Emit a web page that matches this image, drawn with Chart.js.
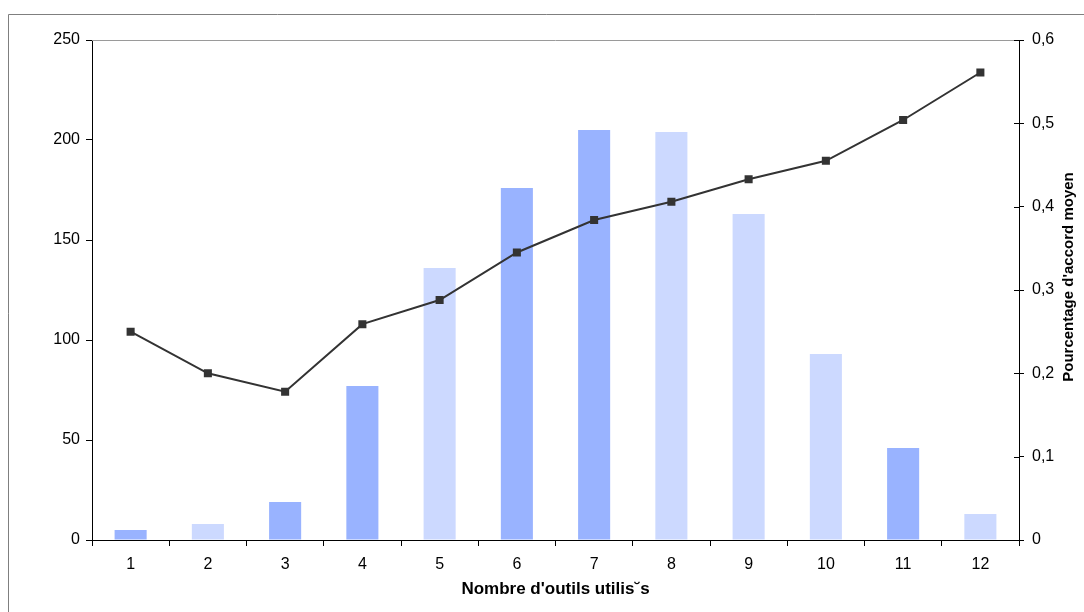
<!DOCTYPE html>
<html>
<head>
<meta charset="utf-8">
<script src="https://cdn.jsdelivr.net/npm/chart.js@4/dist/chart.umd.min.js"></script>
<style>
  html, body { margin: 0; padding: 0; background: #ffffff; }
  canvas { display: block; }
</style>
</head>
<body>
<canvas id="chart" width="1084" height="612"></canvas>
<script>
// Number of tools used (categories)
const toolCounts = ['1', '2', '3', '4', '5', '6', '7', '8', '9', '10', '11', '12'];
// Number of respondents for each tool count (left axis)
const respondents = [5, 8, 19, 77, 136, 176, 205, 204, 163, 93, 46, 13];
// Mean agreement percentage (right axis)
const meanAgreement = [0.250, 0.200, 0.178, 0.259, 0.288, 0.345, 0.384, 0.406, 0.433, 0.455, 0.504, 0.561];
// Axis ranges
const leftTicks = { min: 0, max: 250, step: 50 };
const rightTicks = { min: 0, max: 0.6, step: 0.1 };
// Axis titles
const xTitle = "Nombre d'outils utilis˘s";
const y1Title = "Pourcentage d'accord moyen";

// Bar shading: two tones of blue
const DARK = '#99b3ff';
const LIGHT = '#ccd9ff';
const barShades = [DARK, LIGHT, DARK, DARK, LIGHT, DARK, DARK, LIGHT, LIGHT, LIGHT, DARK, LIGHT];

const FONT = '"Liberation Sans", Arial, sans-serif';

// Frame, top border of plot, inward ticks of the right axis and axis titles
const decorations = {
  id: 'decorations',
  beforeDraw(chart) {
    const ctx = chart.ctx;
    ctx.save();
    ctx.fillStyle = '#ffffff';
    ctx.fillRect(0, 0, chart.width, chart.height);
    ctx.strokeStyle = '#7f7f7f';
    ctx.lineWidth = 1;
    ctx.beginPath();
    ctx.moveTo(8.5, chart.height + 2);
    ctx.lineTo(8.5, 14.5);
    ctx.lineTo(chart.width + 2, 14.5);
    ctx.stroke();
    ctx.restore();
  },
  afterDraw(chart) {
    const ctx = chart.ctx;
    const area = chart.chartArea;
    ctx.save();
    // top edge of the plot area
    ctx.strokeStyle = '#9a9a9a';
    ctx.lineWidth = 1;
    ctx.beginPath();
    ctx.moveTo(area.left, area.top + 0.5);
    ctx.lineTo(area.right, area.top + 0.5);
    ctx.stroke();
    // right axis ticks cross the axis line
    const y1 = chart.scales.y1;
    ctx.strokeStyle = '#000000';
    ctx.beginPath();
    y1.ticks.forEach((t) => {
      const py = Math.round(y1.getPixelForValue(t.value)) + 0.5;
      ctx.moveTo(area.right - 5, py);
      ctx.lineTo(area.right, py);
    });
    ctx.stroke();
    // axis titles
    ctx.fillStyle = '#000000';
    ctx.textAlign = 'center';
    ctx.textBaseline = 'middle';
    ctx.font = 'bold 17px ' + FONT;
    ctx.fillText(xTitle, (area.left + area.right) / 2, 589);
    ctx.font = 'bold 15px ' + FONT;
    ctx.translate(1069, 277);
    ctx.rotate(-Math.PI / 2);
    ctx.fillText(y1Title, 0, 0);
    ctx.restore();
  }
};

const fmtComma = (v) => (v === 0 ? '0' : Number(v).toFixed(1).replace('.', ','));

new Chart(document.getElementById('chart'), {
  data: {
    labels: toolCounts,
    datasets: [
      {
        type: 'line',
        label: y1Title,
        data: meanAgreement,
        yAxisID: 'y1',
        borderColor: '#333333',
        borderWidth: 2,
        tension: 0,
        pointStyle: 'rect',
        pointRadius: 5.7,
        pointBorderWidth: 0,
        pointBackgroundColor: '#333333',
        pointBorderColor: '#333333'
      },
      {
        type: 'bar',
        label: xTitle,
        data: respondents,
        yAxisID: 'y',
        backgroundColor: barShades,
        borderWidth: 0,
        barPercentage: 0.415,
        categoryPercentage: 1
      }
    ]
  },
  options: {
    responsive: false,
    devicePixelRatio: 1,
    animation: false,
    layout: { padding: { top: 40, left: 0, right: 0, bottom: 0 } },
    plugins: {
      legend: { display: false },
      tooltip: { enabled: false }
    },
    scales: {
      x: {
        type: 'category',
        offset: true,
        grid: { display: true, drawOnChartArea: false, offset: true, tickLength: 6, color: '#000000' },
        border: { display: true, color: '#000000', width: 1 },
        ticks: { color: '#000000', font: { family: FONT, size: 16 }, padding: 9, maxRotation: 0 },
        afterFit: (s) => { s.height = 72; }
      },
      y: {
        position: 'left',
        min: leftTicks.min,
        max: leftTicks.max,
        grid: { display: true, drawOnChartArea: false, tickLength: 6, color: '#000000' },
        border: { display: true, color: '#000000', width: 1 },
        ticks: { stepSize: leftTicks.step, color: '#000000', font: { family: FONT, size: 16 }, padding: 6 },
        afterFit: (s) => { s.width = 92; }
      },
      y1: {
        position: 'right',
        min: rightTicks.min,
        max: rightTicks.max,
        grid: { display: true, drawOnChartArea: false, tickLength: 5, color: '#000000' },
        border: { display: true, color: '#000000', width: 1 },
        ticks: { stepSize: rightTicks.step, color: '#000000', font: { family: FONT, size: 16 }, padding: 8, callback: fmtComma },
        afterFit: (s) => { s.width = 65; }
      }
    }
  },
  plugins: [decorations]
});
</script>
</body>
</html>
